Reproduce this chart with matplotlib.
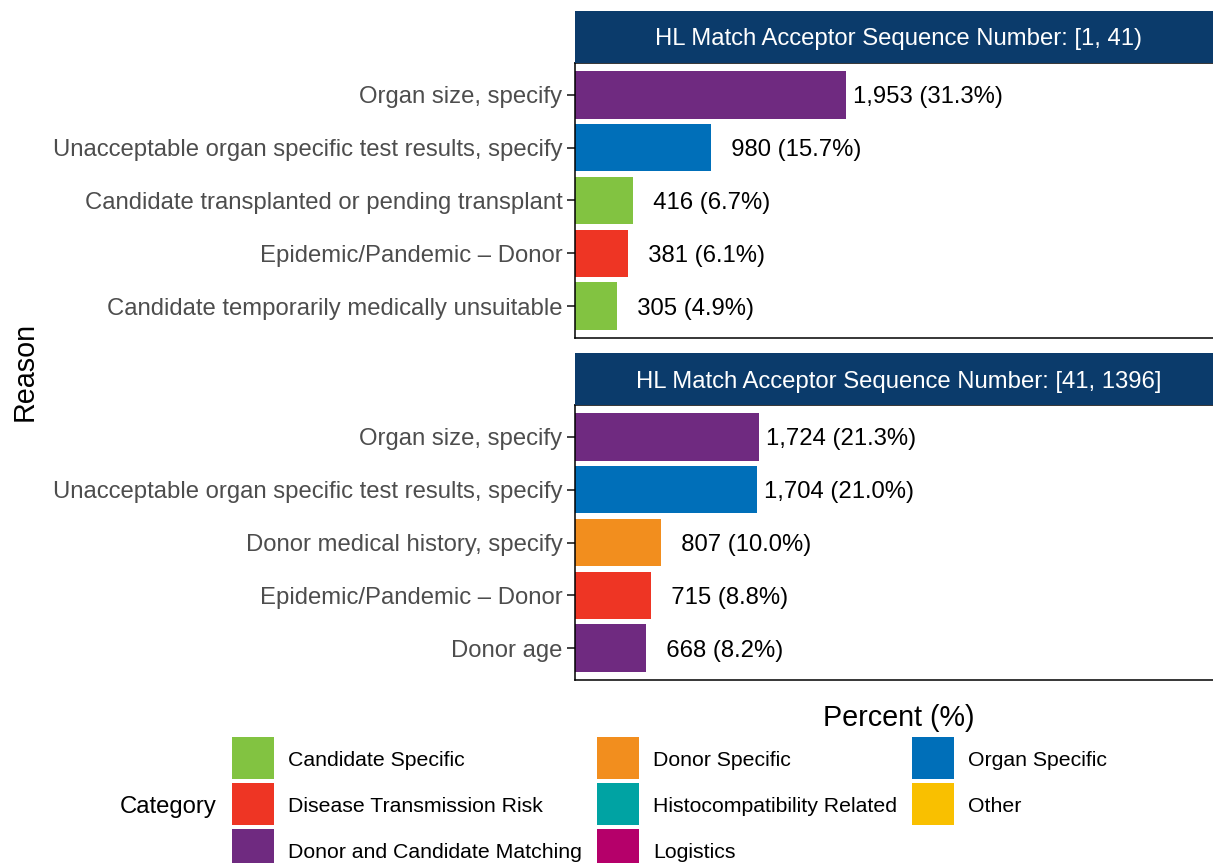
import matplotlib
matplotlib.use("Agg")
import matplotlib.pyplot as plt
from matplotlib.patches import Rectangle

plt.rcParams['font.family'] = ['Liberation Sans', 'DejaVu Sans']

# ---------------- data ----------------
panel_titles = ["HL Match Acceptor Sequence Number: [1, 41)",
                "HL Match Acceptor Sequence Number: [41, 1396]"]

reasons_1 = ["Organ size, specify",
             "Unacceptable organ specific test results, specify",
             "Candidate transplanted or pending transplant",
             "Epidemic/Pandemic \u2013 Donor",
             "Candidate temporarily medically unsuitable"]
counts_1 = [1953, 980, 416, 381, 305]
pcts_1 = [31.3, 15.7, 6.7, 6.1, 4.9]
cats_1 = ["Donor and Candidate Matching", "Organ Specific", "Candidate Specific",
          "Disease Transmission Risk", "Candidate Specific"]

reasons_2 = ["Organ size, specify",
             "Unacceptable organ specific test results, specify",
             "Donor medical history, specify",
             "Epidemic/Pandemic \u2013 Donor",
             "Donor age"]
counts_2 = [1724, 1704, 807, 715, 668]
pcts_2 = [21.3, 21.0, 10.0, 8.8, 8.2]
cats_2 = ["Donor and Candidate Matching", "Organ Specific", "Donor Specific",
          "Disease Transmission Risk", "Donor and Candidate Matching"]

categories = ["Candidate Specific", "Disease Transmission Risk", "Donor and Candidate Matching",
              "Donor Specific", "Histocompatibility Related", "Logistics",
              "Organ Specific", "Other"]
cat_colors = ["#82C341", "#EE3524", "#6F2A80",
              "#F28E1E", "#00A3A3", "#B5006A",
              "#006FB9", "#F9C000"]
color_of = dict(zip(categories, cat_colors))

# ---------------- layout ----------------
W, H = 1213, 863
fig = plt.figure(figsize=(W / 100, H / 100), dpi=100)

STRIP = "#0B3B6B"
FS = 17.2
VA = 'center_baseline'
panel_left, panel_right = 575, 1222
panels = [(63, 338, 11), (405, 680, 353)]  # (top, bottom, strip_top) in px
xmax = 74.8

def px_rect(l, t, r, b):
    return [l / W, 1 - b / H, (r - l) / W, (b - t) / H]

overlay = fig.add_axes([0, 0, 1, 1], zorder=5)
overlay.set_xlim(0, W)
overlay.set_ylim(H, 0)
overlay.axis('off')
overlay.patch.set_alpha(0)

data = [(reasons_1, counts_1, pcts_1, cats_1), (reasons_2, counts_2, pcts_2, cats_2)]
for (top, bot, stop), title, (reasons, counts, pcts, cats) in zip(panels, panel_titles, data):
    ax = fig.add_axes(px_rect(panel_left, top, panel_right, bot))
    n = len(reasons)
    ypos = list(range(n, 0, -1))
    ax.barh(ypos, pcts, height=0.9, color=[color_of[c] for c in cats], zorder=2)
    for y, c, p in zip(ypos, counts, pcts):
        lab = f"{c:,}".rjust(5) + f" ({p:.1f}%)"
        ax.text(p + 0.8, y, lab, ha='left', va=VA, fontsize=FS, color='black')
    ax.set_ylim(0.4, n + 0.6)
    ax.set_xlim(0, xmax)
    ax.set_yticks(ypos)
    ax.set_yticklabels(reasons, fontsize=FS, color='#4D4D4D', va=VA)
    ax.set_xticks([])
    ax.tick_params(axis='y', length=6, width=1.3, color='#333333', pad=3)
    for s in ax.spines.values():
        s.set_linewidth(1.1)
        s.set_color('black')
    # strip
    overlay.add_patch(Rectangle((panel_left, stop), panel_right - panel_left, top - stop,
                                facecolor=STRIP, edgecolor='none'))
    overlay.text((panel_left + panel_right) / 2, (stop + top) / 2, title, ha='center',
                 va=VA, fontsize=FS, color='white')

# axis titles
overlay.text((panel_left + panel_right) / 2, 715, "Percent (%)", ha='center', va=VA,
             fontsize=20.7, color='black')
overlay.text(25, 371, "Reason", ha='center', va='center', rotation=90,
             fontsize=20.7, color='black')

# legend
overlay.text(168, 804, "Category", ha='center', va=VA, fontsize=FS, color='black')
col_x = [232, 597, 912]
row_y = [758, 804, 850]
ks = 42
for i, (cat, col) in enumerate(zip(categories, cat_colors)):
    cx = col_x[i // 3]
    ry = row_y[i % 3]
    overlay.add_patch(Rectangle((cx, ry - ks / 2), ks, ks, facecolor=col, edgecolor='none'))
    overlay.text(cx + 56, ry, cat, ha='left', va=VA, fontsize=15.3, color='black')

fig.savefig("out.png", dpi=100)
